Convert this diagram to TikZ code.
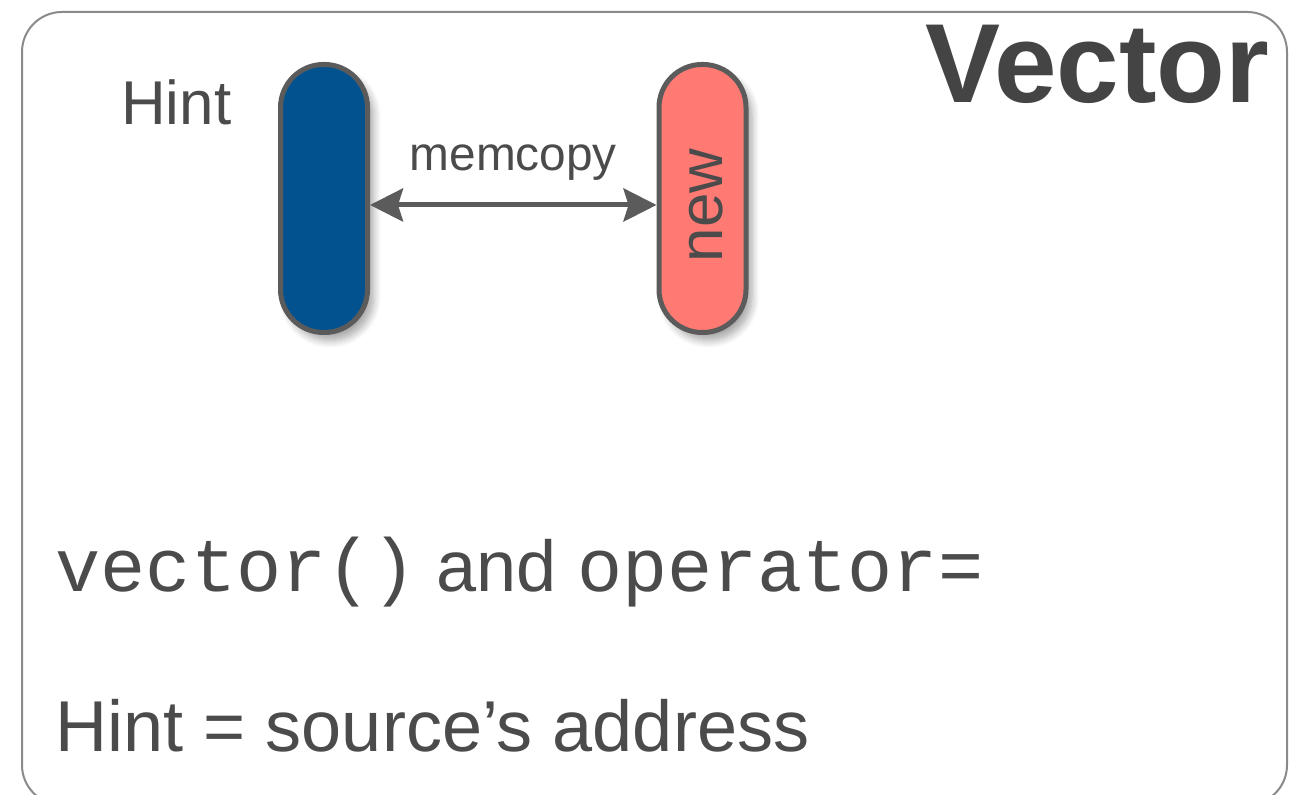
\documentclass[tikz,border=0pt]{standalone}
\usepackage{fontspec}
\setmainfont{Liberation Sans}
\setmonofont{Liberation Mono}
\usepackage{tikz}
\usetikzlibrary{arrows.meta,calc,positioning,shadows.blur}

\definecolor{txtgray}{HTML}{4B4B4B}
\definecolor{edgegray}{HTML}{5B5B5B}
\definecolor{framegray}{HTML}{8A8A8A}
\definecolor{hintblue}{HTML}{02528F}
\definecolor{newred}{HTML}{FF7A73}

\newcommand{\codetxt}[1]{{\fontsize{21.4}{24}\selectfont\texttt{#1}}}

\tikzset{
  pill/.style={draw=edgegray, line width=0.05cm, rounded corners=0.43cm,
    minimum width=0.87cm, minimum height=2.68cm, inner sep=0pt,
    blur shadow={shadow xshift=0.06cm, shadow yshift=-0.08cm, shadow blur steps=8, shadow opacity=35}},
  lbl/.style={text=txtgray, inner sep=0pt},
}

\begin{document}
\begin{tikzpicture}[>={Stealth[length=0.33cm,width=0.33cm,inset=0.05cm]}]
  \useasboundingbox (0,0) rectangle (12.99,7.95);
  % outer card
  \draw[framegray, line width=0.02cm, rounded corners=0.4cm] (0.22,-0.1) rectangle (12.87,7.83);

  \node[lbl, anchor=base east, font=\fontsize{32}{38}\selectfont\bfseries, text=txtgray!90!black] (title) at (12.70,6.92) {Vector};

  % the two buffers
  \node[pill, fill=hintblue] (hint) at (3.24,5.965) {};
  \node[pill, fill=newred] (new) at (7.025,5.965) {};
  \node[lbl, rotate=90, font=\fontsize{17.6}{20}\selectfont] at ([xshift=0.04cm,yshift=-0.07cm]new.center) {new};

  \node[lbl, anchor=east, font=\fontsize{17.6}{20}\selectfont] (hintlbl) at ([xshift=-0.46cm,yshift=-0.4cm]hint.north west) {Hint};

  % copy between them
  \draw[<->, edgegray, line width=0.05cm] ([yshift=-0.065cm]hint.east) -- ([yshift=-0.065cm]new.west)
    node[midway, above=0.22cm, lbl, font=\fontsize{13.6}{16}\selectfont] (copylbl) {memcopy};

  % notes
  \node[lbl, anchor=base west, font=\fontsize{20.5}{24}\selectfont] (line1) at (0.55,2.03)
    {\codetxt{vector()} and \codetxt{operator=}};
  \node[lbl, anchor=base west, font=\fontsize{20.5}{24}\selectfont] (line2) at (0.55,0.43)
    {Hint = source’s address};
\end{tikzpicture}
\end{document}
